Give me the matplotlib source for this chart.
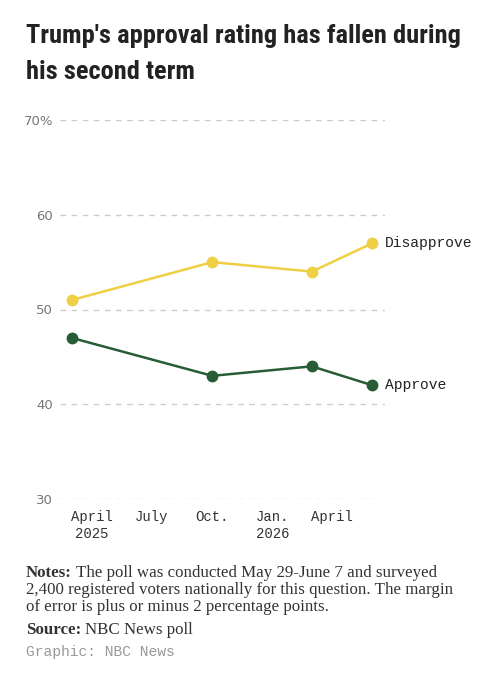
import matplotlib.pyplot as plt
import pandas as pd

# poll dates and results (percent)
poll_dates = pd.to_datetime(['2025-03-02', '2025-10-01', '2026-03-01', '2026-06-01'])
approve = [47, 43, 44, 42]
disapprove = [51, 55, 54, 57]

tick_dates = pd.to_datetime(['2025-04-01', '2025-07-01', '2025-10-01', '2026-01-01', '2026-04-01'])
tick_labels = ['April\n2025', 'July', 'Oct.', 'Jan.\n2026', 'April']

y_ticks = [30, 40, 50, 60, 70]
y_labels = ['30', '40', '50', '60', '70%']

green = '#275d36'
yellow = '#efd045'
mono = ['Liberation Mono', 'DejaVu Sans Mono']
serif = ['Liberation Serif', 'DejaVu Serif']
title_font = ['Roboto Condensed', 'Liberation Sans Narrow', 'Roboto', 'DejaVu Sans']

W, H = 498, 680
fig = plt.figure(figsize=(W / 100, H / 100), dpi=100)
ax = fig.add_axes([60 / W, 1 - 499 / H, 325 / W, (499 - 120) / H])

ax.plot(poll_dates, disapprove, color=yellow, lw=1.8, marker='o', ms=7.5, zorder=3)
ax.plot(poll_dates, approve, color=green, lw=1.8, marker='o', ms=7.5, zorder=3)

ax.annotate('Disapprove', (poll_dates[-1], disapprove[-1]), xytext=(9, 0),
            textcoords='offset points', va='center', ha='left',
            fontsize=10.5, family=mono, color='#222222', annotation_clip=False)
ax.annotate('Approve', (poll_dates[-1], approve[-1]), xytext=(9, 0),
            textcoords='offset points', va='center', ha='left',
            fontsize=10.5, family=mono, color='#222222', annotation_clip=False)

ax.set_xlim(pd.Timestamp('2025-02-12'), pd.Timestamp('2026-06-20'))
ax.set_ylim(30, 70)
ax.set_yticks(y_ticks)
ax.set_yticklabels(y_labels, color='#777777', fontsize=9.5)
ax.set_xticks(tick_dates)
ax.set_xticklabels(tick_labels, family=mono, fontsize=10, color='#333333', linespacing=1.3, va='top')
ax.tick_params(axis='both', length=0)
ax.tick_params(axis='y', pad=5)
ax.tick_params(axis='x', pad=8)
ax.grid(axis='y', color='#cccccc', lw=1, linestyle=(0, (4, 4)))
for s in ax.spines.values():
    s.set_visible(False)

fig.text(26 / W, 1 - 43 / H, "Trump's approval rating has fallen during",
         family=title_font, fontweight='bold', fontsize=19, color='#222222', va='baseline')
fig.text(26 / W, 1 - 79 / H, "his second term",
         family=title_font, fontweight='bold', fontsize=19, color='#222222', va='baseline')

# notes block
fs = 12.2
renderer = fig.canvas.get_renderer()
notes_head = fig.text(26 / W, 1 - 577 / H, 'Notes:', family=serif, fontweight='bold',
                      fontsize=fs, color='#333333', va='baseline')
w = notes_head.get_window_extent(renderer).width
fig.text((26 + w + 4) / W, 1 - 577 / H, 'The poll was conducted May 29-June 7 and surveyed',
         family=serif, fontsize=fs, color='#333333', va='baseline')
fig.text(26 / W, 1 - 594 / H, '2,400 registered voters nationally for this question. The margin',
         family=serif, fontsize=fs, color='#333333', va='baseline')
fig.text(26 / W, 1 - 611 / H, 'of error is plus or minus 2 percentage points.',
         family=serif, fontsize=fs, color='#333333', va='baseline')
src_head = fig.text(26 / W, 1 - 634 / H, 'Source:', family=serif, fontweight='bold',
                    fontsize=fs, color='#333333', va='baseline')
w = src_head.get_window_extent(renderer).width
fig.text((26 + w + 4) / W, 1 - 634 / H, 'NBC News poll',
         family=serif, fontsize=fs, color='#333333', va='baseline')
fig.text(26 / W, 1 - 656 / H, 'Graphic: NBC News', family=mono, fontsize=10.5,
         color='#999999', va='baseline')

fig.savefig('out.png', dpi=100, facecolor='white')
